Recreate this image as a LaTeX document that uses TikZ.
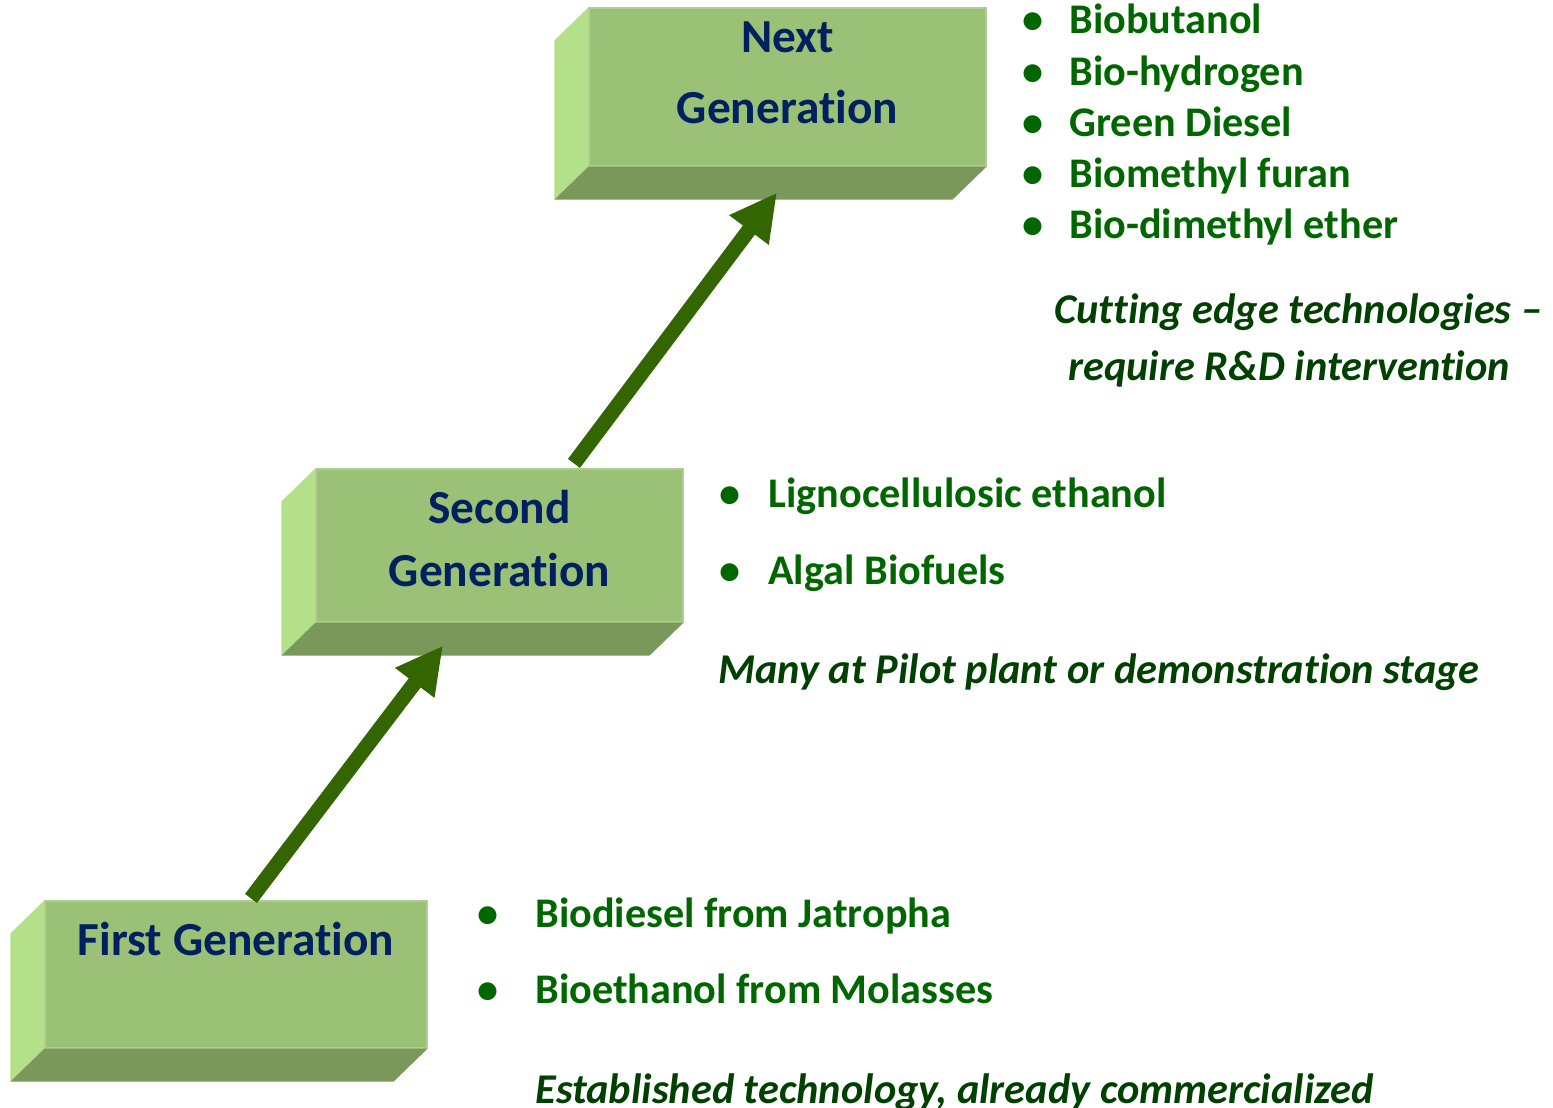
\documentclass[tikz,border=0pt]{standalone}
\usepackage{fontspec}
\setmainfont{Carlito}[Ligatures=NoCommon]
\usetikzlibrary{arrows.meta,calc}

\definecolor{boxfront}{HTML}{9BC177}
\definecolor{boxleft}{HTML}{B3E088}
\definecolor{boxbottom}{HTML}{7A985A}
\definecolor{navytext}{HTML}{002060}
\definecolor{fuelgreen}{HTML}{006600}
\definecolor{notegreen}{HTML}{004000}
\definecolor{arrowgreen}{HTML}{336600}

\tikzset{
  genbox/.style={fill=boxfront, draw=boxfront!80!white, line width=0.6pt, inner sep=0pt},
  gentext/.style={navytext, font=\fontsize{23.7}{32}\selectfont\bfseries, anchor=base, inner sep=0pt},
  fuel/.style={fuelgreen, font=\fontsize{21.1}{25}\selectfont\bfseries, anchor=base west, inner sep=0pt},
  note/.style={notegreen, font=\fontsize{21.2}{29}\selectfont\bfseries\itshape, anchor=base west, inner sep=0pt},
  genarrow/.style={arrowgreen, line width=7.5pt, -{Triangle[length=23.4pt,width=23pt]}}
}

\begin{document}
\begin{tikzpicture}[x=0.5pt,y=-0.5pt]
  \useasboundingbox (0,0) rectangle (1553,1108);
  % front faces of the three steps
  \node[genbox, minimum width=191pt, minimum height=73.5pt] (first) at (236,974.5) {};
  \node[genbox, minimum width=183.5pt, minimum height=76.5pt] (second) at (499.5,545.5) {};
  \node[genbox, minimum width=198.5pt, minimum height=79pt] (next) at (787.5,87) {};
  \foreach \b in {first,second,next} {
    \fill[boxleft] (\b.north west) -- (\b.south west) -- ++(-34,33) -- ($(\b.north west)+(-34,33)$) -- cycle;
    \fill[boxbottom] (\b.south west) -- (\b.south east) -- ++(-34,33) -- ($(\b.south west)+(-34,33)$) -- cycle;
  }
  \node[gentext] (firstlbl) at (236,955) {First Generation};
  \node[gentext] (secondlbl) at (499.5,523) {Second};
  \node[gentext] (secondlbl2) at (499.5,586) {Generation};
  \node[gentext] (nextlbl) at (787.5,53) {Next};
  \node[gentext] (nextlbl2) at (787.5,123) {Generation};
  % arrows between the steps
  \draw[genarrow] ($(first.north)+(15,-2)$) -- ($(second.south)+(-56.5,23)$);
  \draw[genarrow] ($(second.north)+(74.5,-5)$) -- ($(next.south)+(-10.5,26)$);
  % fuels of each generation
  \foreach \f/\y [count=\i] in {Biodiesel from Jatropha/927, Bioethanol from Molasses/1003} {
    \node[fuel, anchor=base] (firstdot\i) at (488,\y) {•};
    \node[fuel] (firstfuel\i) at (535,\y) {\f};
  }
  \foreach \f/\y [count=\i] in {Lignocellulosic ethanol/507, Algal Biofuels/584} {
    \node[fuel, anchor=base] (seconddot\i) at (730,\y) {•};
    \node[fuel] (secondfuel\i) at (768,\y) {\f};
  }
  \foreach \f/\y [count=\i] in {Biobutanol/33, Bio-hydrogen/85, Green Diesel/136, Biomethyl furan/187, Bio-dimethyl ether/238} {
    \node[fuel, anchor=base] (nextdot\i) at (1033,\y) {•};
    \node[fuel] (nextfuel\i) at (1069,\y) {\f};
  }
  \node[note] (firstnote) at (535,1103) {Established technology, already commercialized};
  \node[note] (secondnote) at (718,683) {Many at Pilot plant or demonstration stage};
  \node[note] (nextnote) at (1054,323) {Cutting edge technologies –};
  \node[note] (nextnote2) at (1068,380) {require R\&D intervention};
\end{tikzpicture}
\end{document}
